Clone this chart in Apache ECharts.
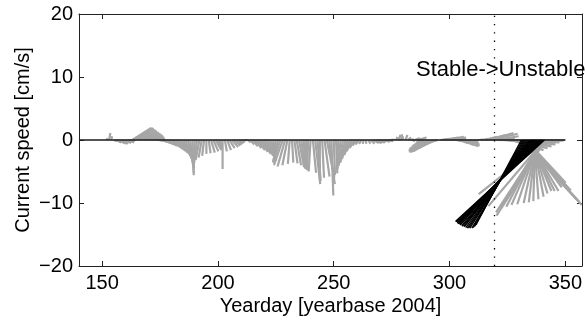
<!DOCTYPE html>
<html><head><meta charset="utf-8">
<script src="https://cdn.jsdelivr.net/npm/echarts@6/dist/echarts.min.js"></script>
<style>html,body{margin:0;padding:0;background:#fff}#c{width:585px;height:322px}</style>
</head><body><div id="c"></div>
<script>
// ---- data ----
const xTicks = [150, 200, 250, 300, 350];
const yTicks = [-20, -10, 0, 10, 20];
const xTitle = 'Yearday [yearbase 2004]';
const yTitle = 'Current speed [cm/s]';
const annotation = 'Stable->Unstable';
const transitionDay = 319.2;
const zeroLineDays = [140, 350];

// gray sticks: day, east component u, north component v (cm/s)
const grayDay = [152,153,154,155,156,157,158,159,160,161,162,163,164,165,166,167,168,169,170,171,172,173,174,175,176,177,178,179,180,181,182,183,184,185,186,187,188,189,190,191,192,193,194,195,196,197,198,199,200,201,202,203,204,205,206,207,208,209,210,211,212,213,214,215,216,217,218,219,220,221,222,223,224,225,226,227,228,229,230,231,232,233,234,235,236,237,238,239,240,241,242,243,244,245,246,247,248,249,250,251,252,253,254,255,256,257,258,259,260,261,262,263,264,265,266,267,268,269,270,271,272,273,274,275,276,277,278,279,280,281,282,283,284,285,286,287,288,289,290,291,292,293,294,295,296,297,298,299,300,301,302,303,304,305,306,307,308,309,310,311,312,313,314,315,316,317,318,319,320,321,322,323,324,325,326,327,328,329,330,331,331.5,332,332.5,333,333.5,334,334.5,335,335.5,336,336.5,337,337.5,338,338.5,339,339.5,340,340.5,341,341.5,342,343,344,345,346,347,348,349,350];
const grayU = [0.1,0.2,0.1,0.5,0.8,1.0,0.9,0.8,0.9,1.0,0.8,3.0,2.9,2.7,2.6,2.5,2.4,2.3,2.2,2.0,1.8,1.5,1.2,1.3,1.4,1.5,1.6,1.7,1.8,1.8,1.8,1.8,1.7,1.5,1.3,1.0,0.6,0.2,-0.2,-0.5,-0.6,-0.5,-0.3,0.0,0.3,0.6,0.8,0.9,0.7,0.3,0.0,0.3,0.6,0.8,1.0,1.0,0.9,0.8,0.6,0.4,0.3,0.4,0.6,0.8,1.0,1.2,1.3,1.4,1.4,1.3,1.1,0.8,0.3,-0.3,-0.8,-1.2,-1.4,-1.2,-0.8,-0.3,0.2,0.5,0.7,0.8,0.6,0.3,0.0,-0.2,-0.3,0.5,0.8,0.5,0.0,0.3,0.8,1.2,0.9,0.3,0.2,0.2,-0.3,-0.5,-0.7,-0.8,-0.9,-0.9,-0.9,-0.8,-0.7,-0.6,-0.4,-0.2,0.0,0.3,0.6,0.9,1.0,1.0,0.8,0.6,0.8,1.0,0.6,0.2,0.0,0.2,0.3,0.2,-0.1,0.3,0.5,0.6,0.4,0.8,1.5,-0.5,-1.5,-2.3,-2.8,-3.1,-3.2,-3.2,-2.8,-2.0,1.5,2.5,3.0,3.0,2.6,2.0,1.2,0.8,1.5,2.0,2.3,2.2,1.8,1.3,0.8,0.4,0.3,0.5,1.0,2.0,3.0,3.9,4.2,4.0,3.0,1.5,10.0,9.0,8.0,7.0,6.0,5.0,3.8,2.5,1.2,9.6,9.0,8.4,7.3,6.3,5.5,4.8,4.0,3.3,2.5,1.7,0.7,-0.3,-1.2,-2.2,-3.4,-4.5,-5.5,-6.6,-7.5,-8.9,-7.8,-10.8,-2.0,-2.5,-3.0,-3.5,-4.0,-4.5,-5.0,-5.5];
const grayV = [0.3,1.1,0.6,-0.2,-0.4,-0.5,-0.6,-0.6,-0.5,-0.4,-0.2,1.9,1.9,1.8,1.6,1.4,1.2,1.0,0.8,0.6,0.4,0.2,-0.1,-0.3,-0.5,-0.7,-0.9,-1.1,-1.4,-1.7,-2.0,-2.3,-2.7,-3.2,-3.8,-4.5,-5.2,-5.6,-4.2,-3.8,-3.2,-2.8,-2.5,-2.2,-2.1,-2.0,-1.8,-1.6,-1.4,-1.5,-4.6,-1.8,-1.6,-1.3,-1.1,-0.9,-0.7,-0.5,-0.3,-0.1,0.0,-0.4,-0.7,-1.0,-1.3,-1.6,-1.9,-2.2,-2.5,-2.8,-3.1,-3.3,-3.3,-3.2,-3.4,-3.6,-4.0,-4.2,-4.0,-3.8,-3.6,-3.7,-4.0,-4.3,-4.5,-4.5,-4.6,-4.8,-5.0,-5.2,-7.0,-6.5,-6.3,-6.0,-5.8,-6.0,-7.0,-8.8,-5.6,-5.3,-5.0,-4.6,-4.1,-3.6,-3.0,-2.4,-1.8,-1.3,-0.9,-0.7,-0.6,-0.6,-0.6,-0.6,-0.6,-0.5,-0.5,-0.4,-0.4,-0.3,-0.3,-0.2,-0.1,0.1,0.2,0.5,0.8,0.9,0.6,0.8,0.4,0.1,-0.2,0.3,0.4,-0.5,-1.0,-1.4,-1.7,-1.9,-1.9,-1.8,-1.3,-0.6,0.2,0.4,0.5,0.4,0.3,0.2,0.1,-0.2,-0.5,-0.8,-1.0,-0.9,-0.7,-0.5,-0.3,-0.1,0.0,0.1,0.2,0.5,0.8,1.1,1.0,0.6,0.3,0.0,-0.1,-0.4,-0.7,-1.0,-1.3,-1.6,-1.8,-2.0,-2.2,-10.3,-9.8,-9.4,-8.0,-6.8,-7.5,-8.1,-8.1,-8.1,-8.5,-9.0,-9.4,-9.7,-9.9,-10.0,-10.2,-10.3,-10.6,-10.8,-11.5,-10.5,-12.0,-8.6,-1.6,-1.5,-1.3,-1.1,-0.9,-0.6,-0.3,-0.1];

// black sticks (highlighted period)
const blackDay = [331,331.5,332,332.5,333,333.5,334,334.5,335,335.5,336,336.5,337,337.5,338,338.5,339,339.5,340,340.5,341];
const blackU = [-7.2,-7.6,-8.0,-8.4,-8.9,-9.3,-9.7,-10.1,-10.5,-10.8,-11.2,-11.5,-11.9,-12.2,-12.5,-12.8,-13.1,-13.3,-13.6,-13.9,-14.1];
const blackV = [-13.5,-13.7,-13.9,-14.0,-14.0,-14.0,-14.0,-13.9,-13.8,-13.7,-13.7,-13.6,-13.5,-13.4,-13.3,-13.3,-13.2,-13.1,-13.0,-13.0,-12.9];

// ---- chart ----
const FONT = "'Liberation Sans', Arial, Helvetica, sans-serif";
const AX = '#222';
const chart = echarts.init(document.getElementById('c'), null, {renderer: 'canvas'});

function zip3(a, b, c) { return a.map((d, i) => [d, b[i], c[i]]); }
function stickRender(color, width) {
  return function (params, api) {
    const t = api.value(0), u = api.value(1), v = api.value(2);
    const base = api.coord([t, 0]);
    const tip = api.coord([t, v]);
    const unitPx = base[1] - api.coord([t, 1])[1];
    return {
      type: 'line',
      shape: {x1: base[0], y1: base[1], x2: base[0] + u * unitPx, y2: tip[1]},
      style: {stroke: color, lineWidth: width}
    };
  };
}
const minusFmt = v => (v < 0 ? '\u2212' + Math.abs(v) : String(v));

const option = {
  animation: false,
  backgroundColor: '#fff',
  grid: {left: 79, right: 1, top: 14, bottom: 56, show: false},
  xAxis: [{
    type: 'value', min: 140, max: 357.2, position: 'bottom',
    axisLine: {show: true, onZero: false, lineStyle: {color: AX, width: 1}},
    axisTick: {show: true, inside: true, length: 5, customValues: xTicks, lineStyle: {color: AX}},
    axisLabel: {show: true, customValues: xTicks, color: '#000', fontSize: 20, fontFamily: FONT, margin: 7},
    splitLine: {show: false},
    name: xTitle, nameLocation: 'middle', nameGap: 30, nameMoveOverlap: false,
    nameTextStyle: {color: '#000', fontSize: 20, fontFamily: FONT}
  }, {
    type: 'value', min: 140, max: 357.2, position: 'top',
    axisLine: {show: true, onZero: false, lineStyle: {color: AX, width: 1}},
    axisTick: {show: true, inside: true, length: 5, customValues: xTicks, lineStyle: {color: AX}},
    axisLabel: {show: false}, splitLine: {show: false}
  }],
  yAxis: [{
    type: 'value', min: -20, max: 20, interval: 10, position: 'left',
    axisLine: {show: true, onZero: false, lineStyle: {color: AX, width: 1}},
    axisTick: {show: true, inside: true, length: 5, lineStyle: {color: AX}},
    axisLabel: {color: '#000', fontSize: 20, fontFamily: FONT, margin: 6, formatter: minusFmt},
    splitLine: {show: false},
    name: yTitle, nameLocation: 'middle', nameGap: 46, nameMoveOverlap: false,
    nameTextStyle: {color: '#000', fontSize: 20, fontFamily: FONT}
  }, {
    type: 'value', min: -20, max: 20, interval: 10, position: 'right',
    axisLine: {show: true, onZero: false, lineStyle: {color: AX, width: 1}},
    axisTick: {show: true, inside: true, length: 5, lineStyle: {color: AX}},
    axisLabel: {show: false}, splitLine: {show: false}
  }],
  series: [{
    type: 'custom', name: 'gray', clip: true, z: 2,
    renderItem: stickRender('#a6a6a6', 2.2),
    encode: {x: 0, y: 2},
    data: zip3(grayDay, grayU, grayV)
  }, {
    type: 'line', name: 'zero', z: 3, symbol: 'none', silent: true,
    lineStyle: {color: '#1a1a1a', width: 1.5},
    data: zeroLineDays.map(d => [d, 0]),
    markLine: {
      silent: true, symbol: 'none', animation: false,
      label: {show: false},
      lineStyle: {color: '#000', width: 1.3, type: [1.3, 7]},
      data: [{xAxis: transitionDay}]
    }
  }, {
    type: 'custom', name: 'black', clip: true, z: 4,
    renderItem: stickRender('#000', 1.3),
    encode: {x: 0, y: 2},
    data: zip3(blackDay, blackU, blackV)
  }],
  graphic: [{
    type: 'text', left: 416, top: 59, z: 10,
    style: {text: annotation, fill: '#000', font: '22px ' + FONT}
  }]
};
chart.setOption(option);
</script></body></html>
